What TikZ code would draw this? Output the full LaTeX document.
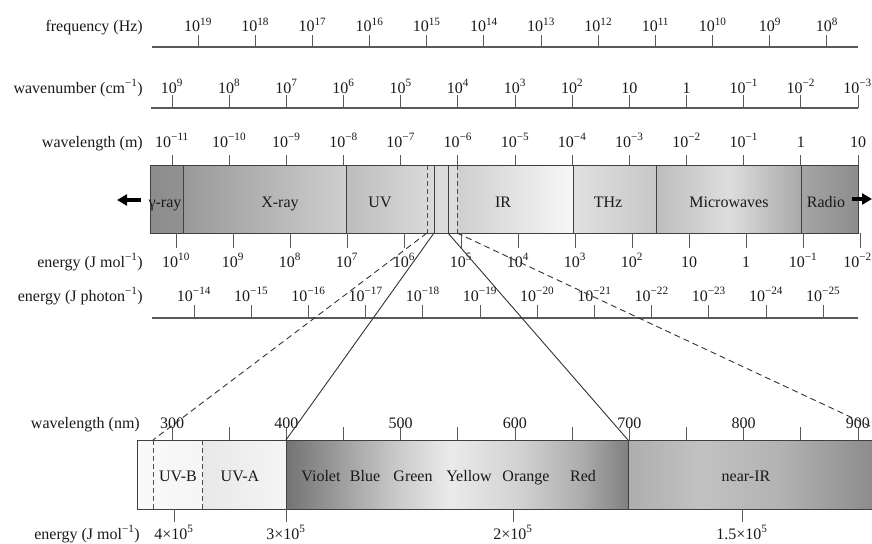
\documentclass[tikz,border=0pt]{standalone}
\usepackage{fontspec}
\setmainfont{Liberation Serif}
\usetikzlibrary{arrows.meta}
\newcommand\tp[1]{10\textsuperscript{#1}}
\newcommand\hgrad[6]{\shade[left color=white!#5!black,right color=white!#6!black] (#1,#3) rectangle (#2,#4);}
\begin{document}
\begin{tikzpicture}[x=1pt,y=-1pt,
  lab/.style={font=\fontsize{16}{19}\selectfont, inner sep=0pt, anchor=base, text=black!90},
  axlab/.style={lab, anchor=base east},
  axline/.style={draw=black!65, line width=1.1pt},
  tick/.style={draw=black!65, line width=1pt},
  bandline/.style={draw=black!75, line width=0.9pt},
  dband/.style={draw=black!70, line width=0.9pt, dash pattern=on 5pt off 3pt},
  conn/.style={draw=black!80, line width=0.9pt},
  dconn/.style={conn, dash pattern=on 6pt off 4pt},
  bigarrow/.style={line width=3.5pt, -{Triangle[length=10pt,width=11pt]}}
]
\useasboundingbox (0,0) rectangle (872,543);

% ---------- frequency ----------
\node[axlab] (lfreq) at (143,32) {frequency (Hz)};
\draw[axline] (152,47) -- (858,47);
\foreach \e [count=\i from 0] in {19,18,...,8} {
  \draw[tick] (198+57.18*\i,35) -- (198+57.18*\i,47);
  \node[lab] (f\i) at (198+57.18*\i,32) {\tp{\e}};
}

% ---------- wavenumber ----------
\node[axlab] (lwn) at (143,93) {wavenumber (cm\textsuperscript{−1})};
\draw[axline] (151,108) -- (858,108);
\foreach \t [count=\i from 0] in {{\tp{9}},{\tp{8}},{\tp{7}},{\tp{6}},{\tp{5}},{\tp{4}},{\tp{3}},{\tp{2}},{10},{1},{\tp{−1}},{\tp{−2}}} {
  \draw[tick] (172+57.17*\i,95) -- (172+57.17*\i,108);
  \node[lab] (w\i) at (172+57.17*\i,93) {\t};
}
\draw[tick] (858,95) -- (858,108);
\node[lab, anchor=base east] (w12) at (872,93) {\tp{−3}};

% ---------- top band shading ----------
\hgrad{150}{183.5}{165}{233}{55}{57}
\hgrad{183}{346.5}{165}{233}{60}{81}
\hgrad{346}{427.5}{165}{233}{74}{85}
\hgrad{427}{457.5}{165}{233}{85}{87}
\hgrad{457}{573.5}{165}{233}{81}{97}
\hgrad{573}{656.5}{165}{233}{88}{78}
\hgrad{656}{729.5}{165}{233}{74}{87}
\hgrad{729}{801.5}{165}{233}{87}{66}
\hgrad{801}{858}{165}{233}{65}{55}
\draw[bandline] (150,165) rectangle (858,233);
\foreach \x in {183,346,434,448,573,656,801} \draw[bandline] (\x,165) -- (\x,233);
\foreach \x in {427,457} \draw[dband] (\x,165) -- (\x,233);

% ---------- wavelength (m) ----------
\node[axlab] (lwl) at (143,147) {wavelength (m)};
\foreach \t [count=\i from 0] in {{\tp{−11}},{\tp{−10}},{\tp{−9}},{\tp{−8}},{\tp{−7}},{\tp{−6}},{\tp{−5}},{\tp{−4}},{\tp{−3}},{\tp{−2}},{\tp{−1}},{1},{10}} {
  \draw[tick] (172+57.17*\i,155) -- (172+57.17*\i,165);
  \node[lab] (m\i) at (172+57.17*\i,147) {\t};
}

% band labels
\node[lab] (gam) at (165,207) {γ-ray};
\node[lab] (xr) at (280,207) {X-ray};
\node[lab] (uv) at (380,207) {UV};
\node[lab] (ir) at (503,207) {IR};
\node[lab] (thz) at (608,207) {THz};
\node[lab] (mw) at (729,207) {Microwaves};
\node[lab] (rad) at (826,207) {Radio};
\coordinate (la1) at (141,200);
\coordinate (la2) at (117,200);
\coordinate (ra1) at (852,199);
\coordinate (ra2) at (872,199);
\draw[bigarrow] (la1) -- (la2);
\draw[bigarrow] (ra1) -- (ra2);

% ---------- energy J/mol ----------
\node[axlab] (lemol) at (143,267) {energy (J mol\textsuperscript{−1})};
\foreach \t [count=\i from 0] in {{\tp{10}},{\tp{9}},{\tp{8}},{\tp{7}},{\tp{6}},{\tp{5}},{\tp{4}},{\tp{3}},{\tp{2}},{10},{1},{\tp{−1}}} {
  \draw[tick] (176+57*\i,233) -- (176+57*\i,248);
  \node[lab] (e\i) at (176+57*\i,267) {\t};
}
\draw[tick] (860,233) -- (860,248);
\node[lab, anchor=base east] (e12) at (872,267) {\tp{−2}};

% ---------- energy J/photon ----------
\node[axlab] (leph) at (143,301) {energy (J photon\textsuperscript{−1})};
\draw[axline] (152,318) -- (858,318);
\foreach \e [count=\i from 0] in {14,15,...,25} {
  \draw[tick] (194+57.2*\i,305) -- (194+57.2*\i,318);
  \node[lab] (p\i) at (194+57.2*\i,301) {\tp{−\e}};
}

% ---------- lower band shading ----------
\hgrad{137}{202.5}{440}{509}{98}{96}
\hgrad{202}{286.5}{440}{509}{91}{96}
\hgrad{286}{340.5}{440}{509}{45}{62}
\hgrad{340}{400.5}{440}{509}{62}{80}
\hgrad{400}{450.5}{440}{509}{80}{92}
\hgrad{450}{520.5}{440}{509}{92}{82}
\hgrad{520}{580.5}{440}{509}{82}{68}
\hgrad{580}{628.5}{440}{509}{68}{50}
\hgrad{628}{700.5}{440}{509}{68}{76}
\hgrad{700}{780.5}{440}{509}{76}{70}
\hgrad{780}{872}{440}{509}{70}{55}
\draw[bandline] (872,440) -- (137,440) -- (137,509) -- (872,509);
\foreach \x in {286,628} \draw[bandline] (\x,440) -- (\x,509);
\foreach \x in {153,202} \draw[dband] (\x,440) -- (\x,509);

% lower band labels
\node[lab] (uvb) at (178,481) {UV-B};
\node[lab] (uva) at (240,481) {UV-A};
\node[lab] (vio) at (321,481) {Violet};
\node[lab] (blu) at (365,481) {Blue};
\node[lab] (gre) at (413,481) {Green};
\node[lab] (yel) at (469,481) {Yellow};
\node[lab] (ora) at (526,481) {Orange};
\node[lab] (red) at (583,481) {Red};
\node[lab] (nir) at (746,481) {near-IR};

% ---------- wavelength (nm) ----------
\node[axlab] (lnm) at (140,428) {wavelength (nm)};
\foreach \i in {0,...,12} \draw[tick] (172+57.17*\i,427) -- (172+57.17*\i,440);
\foreach \v [count=\i from 0] in {300,400,...,900} \node[lab] (n\i) at (172+114.33*\i,428) {\v};

% ---------- energy J/mol (lower) ----------
\node[axlab] (lemol2) at (140,539) {energy (J mol\textsuperscript{−1})};
\draw[tick] (174,509) -- (174,522);
\draw[tick] (286,509) -- (286,522);
\draw[tick] (513,509) -- (513,522);
\draw[tick] (742,509) -- (742,522);
\node[lab] (k1) at (174,539) {4×10\textsuperscript{5}};
\node[lab] (k2) at (286,539) {3×10\textsuperscript{5}};
\node[lab] (k3) at (513,539) {2×10\textsuperscript{5}};
\node[lab] (k4) at (742,539) {1.5×10\textsuperscript{5}};

% ---------- connectors ----------
\coordinate (ua) at (434,233);
\coordinate (ub) at (448,233);
\coordinate (uc) at (427,233);
\coordinate (ud) at (457,233);
\coordinate (da) at (286,440);
\coordinate (db) at (628,440);
\coordinate (dc) at (153,440);
\coordinate (dd) at (872,427);
\draw[conn] (ua) -- (da);
\draw[conn] (ub) -- (db);
\draw[dconn] (uc) -- (dc);
\draw[dconn] (ud) -- (dd);
\end{tikzpicture}
\end{document}
